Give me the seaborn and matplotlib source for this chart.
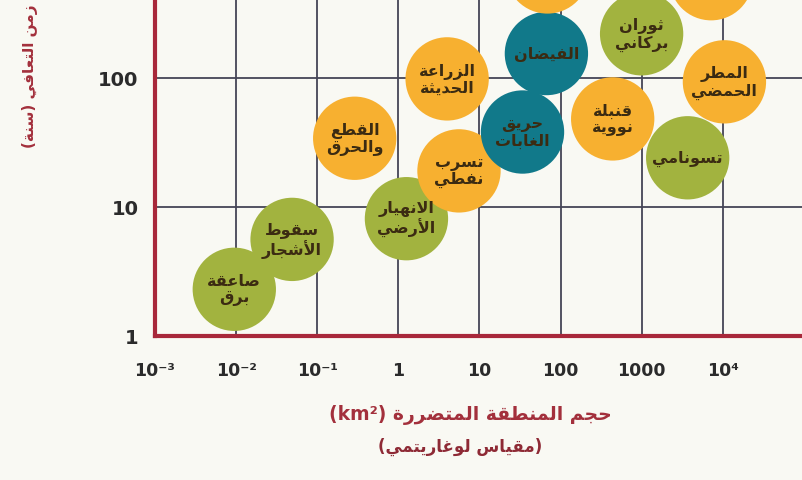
# --- IMPORTS ---
import numpy as np
import pandas as pd
import matplotlib
matplotlib.use("Agg")
import matplotlib.pyplot as plt
import seaborn as sns

# --- DATA ---
labels = ["صاعقة\nبرق", "سقوط\nالأشجار", "القطع\nوالحرق", "الانهيار\nالأرضي",
          "تسرب\nنفطي", "الزراعة\nالحديثة", "الفيضان", "حريق\nالغابات",
          "ثوران\nبركاني", "قنبلة\nنووية", "المطر\nالحمضي", "تسونامي", "", ""]
area_km2 = [0.0095, 0.049, 0.29, 1.26, 5.6, 4.0, 67, 34, 1000, 440, 10500, 3700, 69, 7200]
recovery_years = [2.3, 5.6, 34, 8.1, 19, 98, 154, 38, 219, 48, 93, 24, 660, 585]
kind = ["green", "green", "orange", "green", "orange", "orange", "teal", "teal",
        "green", "orange", "orange", "green", "orange", "orange"]

x_ticks = [1e-3, 1e-2, 1e-1, 1, 10, 100, 1000, 1e4]
x_ticklabels = ["10⁻³", "10⁻²", "10⁻¹", "1", "10", "100", "1000", "10⁴"]
y_ticks = [1, 10, 100]
y_ticklabels = ["1", "10", "100"]

x_title = "حجم المنطقة المتضررة"
x_title_2 = "(مقياس لوغاريتمي)"
y_title = "زمن التعافي (سنة)"

palette = {"orange": "#F7B030", "green": "#A2B33F", "teal": "#11798A"}

# --- SIMPLE ARABIC SHAPING (matplotlib has no bidi / joining) ---
_dual = {'ئ': 0xFE89, 'ب': 0xFE8F, 'ت': 0xFE95, 'ث': 0xFE99, 'ج': 0xFE9D, 'ح': 0xFEA1,
         'خ': 0xFEA5, 'س': 0xFEB1, 'ش': 0xFEB5, 'ص': 0xFEB9, 'ض': 0xFEBD, 'ط': 0xFEC1,
         'ظ': 0xFEC5, 'ع': 0xFEC9, 'غ': 0xFECD, 'ف': 0xFED1, 'ق': 0xFED5, 'ك': 0xFED9,
         'ل': 0xFEDD, 'م': 0xFEE1, 'ن': 0xFEE5, 'ه': 0xFEE9, 'ي': 0xFEF1}
_right = {'آ': 0xFE81, 'أ': 0xFE83, 'ؤ': 0xFE85, 'إ': 0xFE87, 'ا': 0xFE8D, 'ة': 0xFE93,
          'د': 0xFEA9, 'ذ': 0xFEAB, 'ر': 0xFEAD, 'ز': 0xFEAF, 'و': 0xFEED, 'ى': 0xFEEF}
FORMS = {c: tuple(b + i for i in range(4)) for c, b in _dual.items()}
FORMS.update({c: (b, b + 1) for c, b in _right.items()})
FORMS['ء'] = (0xFE80,)
LAM_ALEF = {'آ': 0xFEF5, 'أ': 0xFEF7, 'إ': 0xFEF9, 'ا': 0xFEFB}


def shape_line(text):
    units = []
    i = 0
    while i < len(text):
        c = text[i]
        if c == 'ل' and i + 1 < len(text) and text[i + 1] in LAM_ALEF:
            b = LAM_ALEF[text[i + 1]]
            units.append((b, b + 1))
            i += 2
            continue
        units.append(FORMS.get(c, c))
        i += 1
    out = []
    for k, u in enumerate(units):
        if isinstance(u, str):
            out.append(u)
            continue
        prev = units[k - 1] if k > 0 else None
        nxt = units[k + 1] if k + 1 < len(units) else None
        jp = isinstance(prev, tuple) and len(prev) == 4
        jn = len(u) == 4 and isinstance(nxt, tuple) and len(nxt) >= 2
        if len(u) == 1:
            idx = 0
        elif jp and jn:
            idx = 3
        elif jp:
            idx = 1
        elif jn:
            idx = 2
        else:
            idx = 0
        out.append(chr(u[idx]))
    s = ''.join(out)[::-1]
    return s.translate(str.maketrans('()', ')('))


def shape(text):
    return '\n'.join(shape_line(line) for line in text.split('\n'))


# --- FIGURE ---
sns.set_style("white")
plt.rcParams['font.family'] = ['DejaVu Sans']

df = pd.DataFrame({"area": area_km2, "years": recovery_years, "kind": kind, "label": labels})

fig = plt.figure(figsize=(8.03, 4.81), dpi=100)
fig.patch.set_facecolor("#F9F9F3")
ax = fig.add_axes([155 / 803, 1 - 337 / 481, 1 - 155 / 803, 337 / 481])
ax.set_facecolor("#F9F9F3")

sns.scatterplot(data=df, x="area", y="years", hue="kind", palette=palette,
                s=3600, linewidth=0, alpha=1, legend=False, ax=ax, zorder=3)

for _, row in df.iterrows():
    if row["label"]:
        ax.text(row["area"], row["years"], shape(row["label"]), ha="center", va="center",
                fontsize=11.5, fontweight="bold", color="#3B2B12", zorder=4,
                multialignment="center", linespacing=1.1)

ax.set_xscale("log")
ax.set_yscale("log")
ax.set_xlim(1e-3, 10 ** 4.99)
ax.set_ylim(1, 10 ** 2.61)
ax.set_xlabel("")
ax.set_ylabel("")

ax.set_xticks(x_ticks)
ax.set_xticklabels(x_ticklabels, fontsize=12.5, fontweight="bold", color="#2B2B2B")
ax.set_yticks(y_ticks)
ax.set_yticklabels(y_ticklabels, fontsize=14, fontweight="bold", color="#2B2B2B")
ax.minorticks_off()
ax.tick_params(axis="x", length=0, pad=18)
ax.tick_params(axis="y", length=0, pad=12)

ax.grid(True, which="major", color="#454556", linewidth=1.3, zorder=1)
ax.set_axisbelow(True)

for side in ["top", "right"]:
    ax.spines[side].set_visible(False)
for side in ["left", "bottom"]:
    ax.spines[side].set_color("#A8283A")
    ax.spines[side].set_linewidth(3)
    ax.spines[side].set_zorder(5)

# axis titles
fig.text(470 / 803, 1 - 415 / 481, "(km²) " + shape(x_title), ha="center", va="center",
         fontsize=13.5, fontweight="bold", color="#A3303C")
fig.text(460 / 803, 1 - 447 / 481, shape(x_title_2), ha="center", va="center",
         fontsize=12, fontweight="bold", color="#8E2A35")
fig.text(30 / 803, 1 - 4 / 481, shape(y_title), ha="center", va="top", rotation=90,
         fontsize=11, fontweight="bold", color="#A3303C")

fig.savefig("out.png", dpi=100, facecolor=fig.get_facecolor())
